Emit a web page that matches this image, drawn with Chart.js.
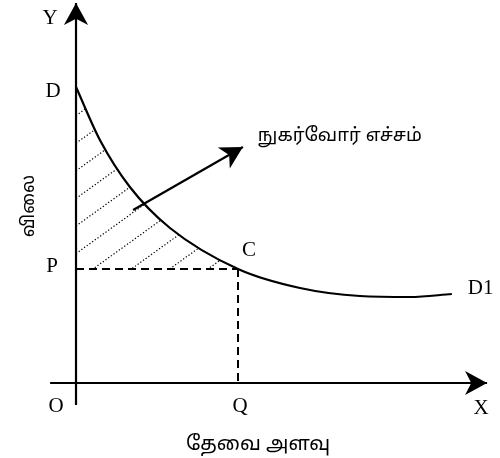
<!DOCTYPE html>
<html>
<head>
<meta charset="utf-8">
<script src="https://cdn.jsdelivr.net/npm/chart.js@4.4.1/dist/chart.umd.min.js"></script>
<style>
  html, body { margin: 0; padding: 0; background: #fff; }
  #wrap { width: 500px; height: 458px; }
</style>
</head>
<body>
<div id="wrap"><canvas id="chart" width="500" height="458"></canvas></div>
<script>
// demand curve D -> D1 (quantity, price)
const demandX = [0, 0.59, 1.33, 2.32, 4.0, 5.53, 7.01, 8.25, 9.28];
const demandY = [7.4, 6.075, 4.9, 3.875, 2.85, 2.375, 2.175, 2.15, 2.225];

// equilibrium point C
const priceP = 2.85;
const quantityQ = 4.0;

// axes
const axisX = [-0.64, 10.15];
const axisY = [-0.55, 9.5];

// pointer arrow to the consumer surplus label
const pointerX = [1.41, 4.12];
const pointerY = [4.325, 5.9];

const serif = '"Liberation Serif", "DejaVu Serif", serif';
const tamil = '"Noto Sans Tamil", "Lohit Tamil", "Noto Sans", sans-serif';
const ink = '#000';

const xy = (xs, ys) => xs.map((x, i) => ({ x: x, y: ys[i] }));

// hatching of the surplus area, clipped under the curve and above P
const hatchPlugin = {
  id: 'hatch',
  beforeDatasetsDraw(chart) {
    const ctx = chart.ctx;
    const xs = chart.scales.x, ys = chart.scales.y;
    const curve = chart.getDatasetMeta(0);
    const pts = curve.data;
    const x0 = xs.getPixelForValue(0);
    const yP = ys.getPixelForValue(priceP);
    const bottom = chart.chartArea.bottom;

    ctx.save();
    ctx.beginPath();
    curve.dataset.path(ctx);
    ctx.lineTo(pts[pts.length - 1].x, bottom);
    ctx.lineTo(pts[0].x, bottom);
    ctx.closePath();
    ctx.clip();
    ctx.beginPath();
    ctx.rect(x0, chart.chartArea.top, chart.chartArea.right - x0, yP - chart.chartArea.top);
    ctx.clip();

    ctx.strokeStyle = '#000';
    ctx.lineWidth = 1.2;
    ctx.setLineDash([1.3, 2]);
    const slope = 0.729;
    for (let b = 0.475; b < demandY[0]; b += 0.69) {
      ctx.beginPath();
      ctx.moveTo(x0, ys.getPixelForValue(b));
      ctx.lineTo(xs.getPixelForValue(8), ys.getPixelForValue(b + 8 * slope));
      ctx.stroke();
    }
    ctx.restore();
  }
};

// barbed arrow heads on datasets flagged with arrowHead
const arrowPlugin = {
  id: 'arrows',
  afterDatasetsDraw(chart) {
    const ctx = chart.ctx;
    chart.data.datasets.forEach((ds, i) => {
      if (!ds.arrowHead) return;
      const pts = chart.getDatasetMeta(i).data;
      const a = pts[pts.length - 2], b = pts[pts.length - 1];
      const ang = Math.atan2(b.y - a.y, b.x - a.x);
      const L = ds.arrowHead, W = L * 0.55;
      ctx.save();
      ctx.translate(b.x, b.y);
      ctx.rotate(ang);
      ctx.fillStyle = ink;
      ctx.beginPath();
      ctx.moveTo(0, 0);
      ctx.lineTo(-L, -W);
      ctx.lineTo(-L * 0.72, 0);
      ctx.lineTo(-L, W);
      ctx.closePath();
      ctx.fill();
      ctx.restore();
    });
  }
};

// letters and titles
const textPlugin = {
  id: 'texts',
  afterDraw(chart) {
    const ctx = chart.ctx;
    const xs = chart.scales.x, ys = chart.scales.y;
    const px = v => xs.getPixelForValue(v);
    const py = v => ys.getPixelForValue(v);
    const put = (t, x, y, font, align) => {
      ctx.font = font;
      ctx.textAlign = align || 'center';
      ctx.fillText(t, x, y);
    };
    ctx.save();
    ctx.fillStyle = ink;
    ctx.textBaseline = 'middle';
    const f = '21px ' + serif;
    put('Y', px(0) - 26, py(axisY[1]) + 15, f);
    put('D', px(0) - 23, py(demandY[0]) + 4, f);
    put('P', px(0) - 24, py(priceP) - 3, f);
    put('O', px(0) - 20, py(0) + 23, f);
    put('Q', px(quantityQ) + 2, py(0) + 23, f);
    put('X', px(axisX[1]) - 6, py(0) + 25, f);
    put('C', px(quantityQ) + 11, py(priceP) - 19, f);
    put('D1', px(demandX[demandX.length - 1]) + 16, py(demandY[demandY.length - 1]) - 6, f, 'left');

    put('நுகர்வோர் எச்சம்', px(pointerX[1]) + 15, py(pointerY[1]) - 10, '18.5px ' + tamil, 'left');
    put('தேவை அளவு', px(0) + 182, py(0) + 63, '20px ' + tamil);
    ctx.translate(px(0) - 46, py(0) - 177);
    ctx.rotate(-Math.PI / 2);
    put('விலை', 0, 0, '18px ' + tamil);
    ctx.restore();
  }
};

new Chart(document.getElementById('chart'), {
  type: 'scatter',
  data: {
    datasets: [
      {
        label: 'demand',
        data: xy(demandX, demandY),
        showLine: true,
        borderColor: ink,
        borderWidth: 2.2,
        cubicInterpolationMode: 'monotone',
        pointRadius: 0
      },
      {
        label: 'price line',
        data: [{ x: 0, y: priceP }, { x: quantityQ, y: priceP }],
        showLine: true,
        borderColor: ink,
        borderWidth: 2,
        borderDash: [8, 5],
        pointRadius: 0
      },
      {
        label: 'quantity line',
        data: [{ x: quantityQ, y: priceP }, { x: quantityQ, y: 0 }],
        showLine: true,
        borderColor: ink,
        borderWidth: 2,
        borderDash: [8, 5],
        pointRadius: 0
      },
      {
        label: 'x axis',
        data: [{ x: axisX[0], y: 0 }, { x: axisX[1], y: 0 }],
        showLine: true,
        borderColor: ink,
        borderWidth: 2.2,
        pointRadius: 0,
        arrowHead: 22
      },
      {
        label: 'y axis',
        data: [{ x: 0, y: axisY[0] }, { x: 0, y: axisY[1] }],
        showLine: true,
        borderColor: ink,
        borderWidth: 2.2,
        pointRadius: 0,
        arrowHead: 22
      },
      {
        label: 'pointer',
        data: xy(pointerX, pointerY),
        showLine: true,
        borderColor: ink,
        borderWidth: 2.2,
        pointRadius: 0,
        arrowHead: 22
      }
    ]
  },
  options: {
    responsive: false,
    animation: false,
    events: [],
    layout: { padding: 0 },
    plugins: {
      legend: { display: false },
      tooltip: { enabled: false }
    },
    scales: {
      x: { type: 'linear', display: false, min: -1.877, max: 10.469 },
      y: { type: 'linear', display: false, min: -1.875, max: 9.575 }
    }
  },
  plugins: [hatchPlugin, arrowPlugin, textPlugin]
});
</script>
</body>
</html>
